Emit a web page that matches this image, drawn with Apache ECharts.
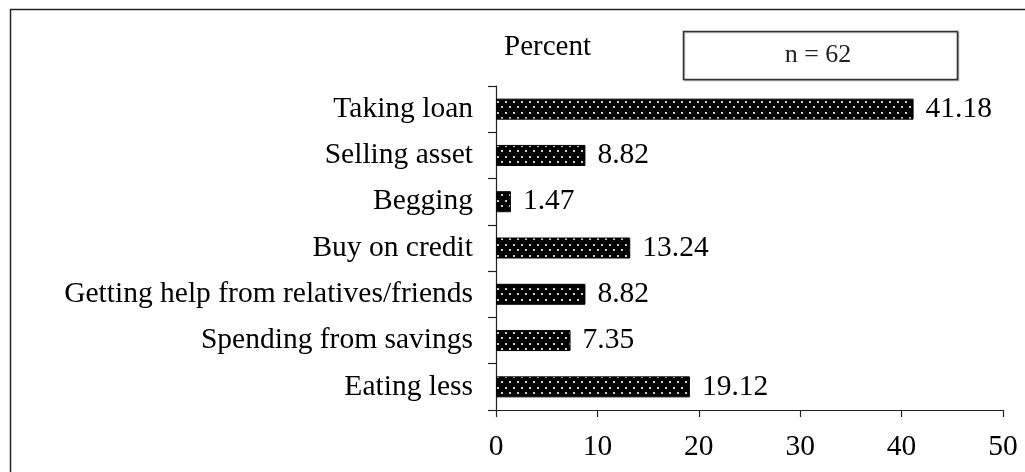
<!DOCTYPE html>
<html>
<head>
<meta charset="utf-8">
<title>Coping strategies</title>
<script src="https://cdn.jsdelivr.net/npm/echarts/dist/echarts.min.js"></script>
<style>
  html, body { margin: 0; padding: 0; background: #fff; }
  #chart { width: 1025px; height: 472px; }
</style>
</head>
<body>
<div id="chart"></div>
<script>
// Coping strategies, listed top to bottom
const categories = [
  'Taking loan',
  'Selling asset',
  'Begging',
  'Buy on credit',
  'Getting help from relatives/friends',
  'Spending from savings',
  'Eating less'
];
// Share of households (percent)
const percents = [41.18, 8.82, 1.47, 13.24, 8.82, 7.35, 19.12];
const xTicks = [0, 10, 20, 30, 40, 50];
const sampleNote = 'n = 62';
const axisTitle = 'Percent';

// Dotted black fill for the bars
function dotPattern() {
  const c = document.createElement('canvas');
  c.width = 8; c.height = 11;
  const g = c.getContext('2d');
  g.fillStyle = '#000';
  g.fillRect(0, 0, 8, 11);
  g.fillStyle = '#cfcfcf';
  g.fillRect(1, 2, 2, 2);
  g.fillRect(5, 7, 2, 2);
  return c;
}

const serif = '"Liberation Serif", "Times New Roman", serif';
const chart = echarts.init(document.getElementById('chart'), null, { renderer: 'canvas' });

chart.setOption({
  animation: false,
  backgroundColor: '#fff',
  grid: { left: 496, right: 22, top: 86, bottom: 62, containLabel: false },
  xAxis: {
    type: 'value',
    min: xTicks[0],
    max: xTicks[xTicks.length - 1],
    interval: xTicks[1] - xTicks[0],
    splitLine: { show: false },
    axisLine: { show: true, lineStyle: { color: '#222', width: 1.2 } },
    axisTick: { show: true, length: 7, lineStyle: { color: '#222', width: 1.2 } },
    axisLabel: { color: '#000', fontFamily: serif, fontSize: 29.5, margin: 22 }
  },
  yAxis: {
    type: 'category',
    data: categories,
    inverse: true,
    axisLine: { show: true, lineStyle: { color: '#222', width: 1.2 } },
    axisTick: { show: true, length: 8, lineStyle: { color: '#222', width: 1.2 } },
    axisLabel: { color: '#000', fontFamily: serif, fontSize: 29.5, margin: 23,
                 padding: [3, 0, 0, 0] }
  },
  series: [{
    type: 'bar',
    data: percents,
    barWidth: 21,
    itemStyle: {
      color: { image: dotPattern(), repeat: 'repeat' },
      borderColor: '#000',
      borderWidth: 1
    },
    label: {
      show: true,
      position: 'right',
      distance: 12,
      color: '#000',
      fontFamily: serif,
      fontSize: 29.5,
      padding: [3, 0, 0, 0],
      formatter: p => p.value.toFixed(2)
    }
  }],
  graphic: [
    {
      type: 'rect',
      silent: true,
      shape: { x: 10.5, y: 9.5, width: 2000, height: 2000 },
      style: { fill: 'none', stroke: '#222', lineWidth: 1.5 },
      z: 0
    },
    {
      type: 'text',
      left: 504,
      top: 33,
      style: { text: axisTitle, fill: '#000', font: '29px ' + serif },
      z: 10
    },
    {
      type: 'rect',
      shape: { x: 683.5, y: 31.5, width: 274, height: 48 },
      style: { fill: '#fff', stroke: '#333', lineWidth: 1.6,
               shadowColor: 'rgba(0,0,0,0.25)', shadowOffsetX: 1, shadowOffsetY: 1 },
      z: 10
    },
    {
      type: 'text',
      x: 818,
      y: 55,
      style: { text: sampleNote, fill: '#222', font: '26px ' + serif,
               align: 'center', verticalAlign: 'middle' },
      z: 11
    }
  ]
});
</script>
</body>
</html>
